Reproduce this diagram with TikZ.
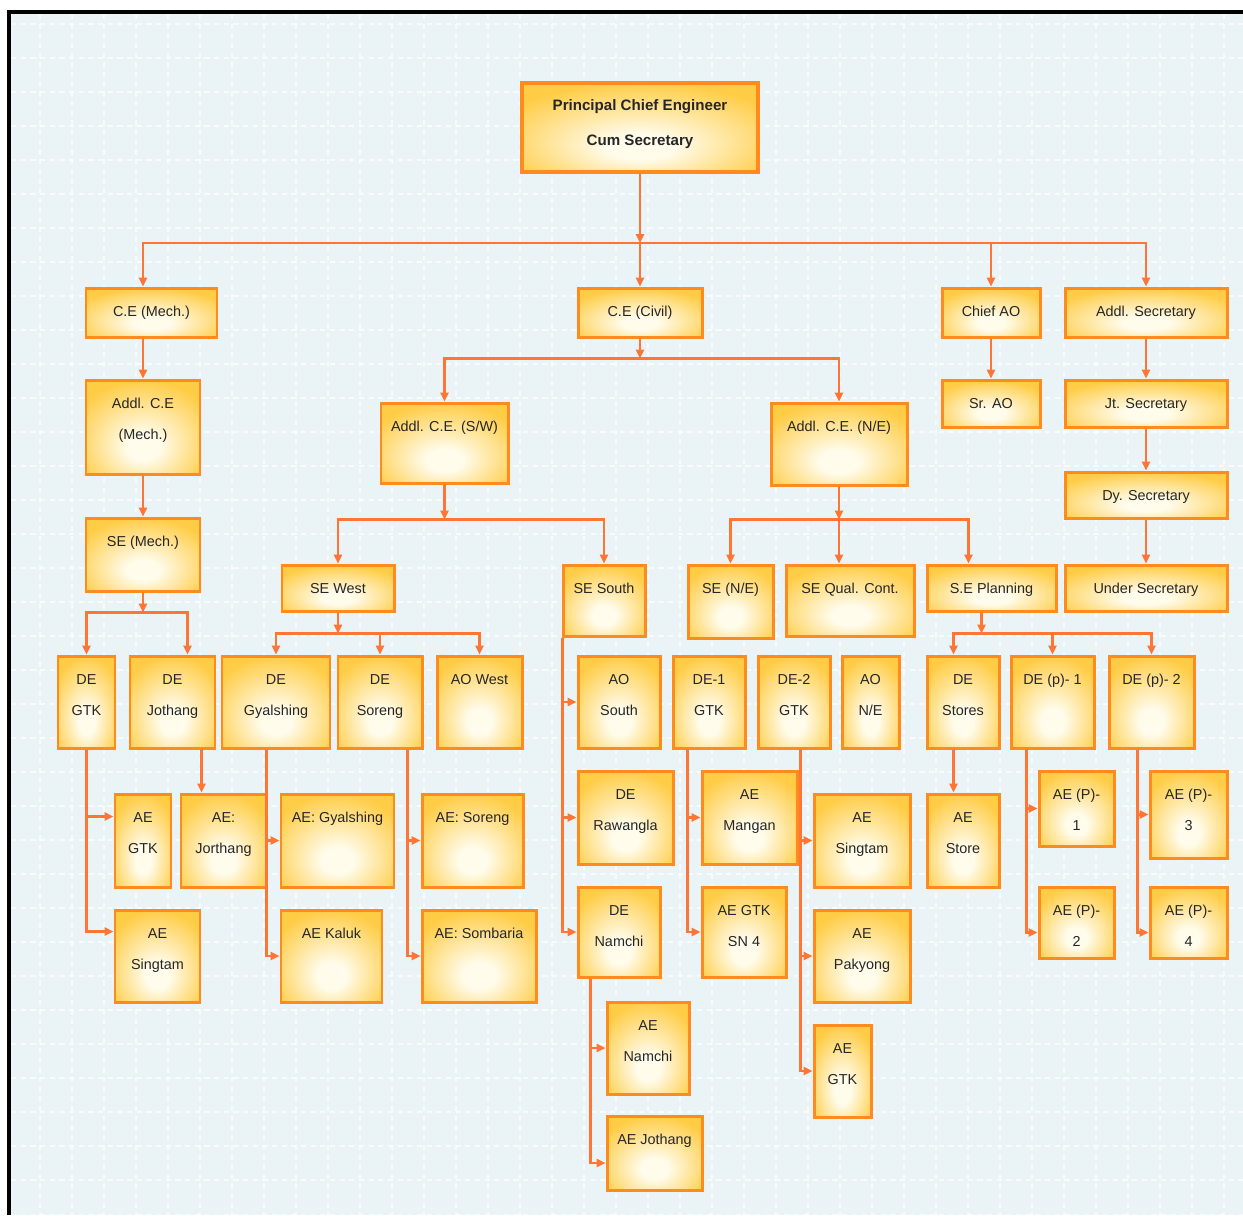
\documentclass[tikz,border=0pt]{standalone}
\usepackage{fontspec}
\setmainfont{Liberation Sans}
\usetikzlibrary{arrows.meta,fit,positioning,calc}
\definecolor{bgblue}{HTML}{EAF4F7}
\definecolor{boxedge}{HTML}{FF8A1E}
\definecolor{boxgold}{HTML}{FFCC45}
\definecolor{boxlight}{HTML}{FFFCEC}
\definecolor{linkor}{HTML}{FF7536}
\pgfdeclareradialshading{boxglow}{\pgfpoint{0bp}{-12bp}}{color(0bp)=(boxlight); color(7bp)=(boxlight); color(32bp)=(boxgold); color(70bp)=(boxgold)}
% one box of the chart: name, corners, text
\newcommand{\orgbox}[6]{%
  \node[obox, fit={(#2,#3) (#4,#5)}] (#1) {};
  \node[otext, below=11pt of #1.north] (#1-t) {#6};
}
\begin{document}
\begin{tikzpicture}[x=0.02cm, y=-0.02cm,
    obox/.style={draw=boxedge, line width=1.7pt, shade, shading=boxglow, inner sep=0pt, rectangle},
    otext/.style={font=\fontsize{8.2}{17.6}\selectfont, text=black!85, align=center, inner sep=0pt},
    link/.style={draw=linkor, line width=1.3pt},
    conn/.style={link, -{Triangle[length=5pt,width=4.5pt]}},
    gridln/.style={draw=white, line width=0.6pt, dash pattern=on 3pt off 2.5pt, opacity=0.7}]
    \useasboundingbox (0,0) rectangle (1243,1215);
    \fill[white] (0,0) rectangle (1243,1215);
    \fill[bgblue] (9,12) rectangle (1243,1215);
    \foreach \gx in {40,72,...,1243} \draw[gridln] (\gx,14) -- (\gx,1215);
    \foreach \gy in {24,58,...,1215} \draw[gridln] (11,\gy) -- (1243,\gy);
    \draw[black, line width=2pt] (9,1215) -- (9,12) -- (1243,12);

    % head
    \node[obox, line width=2.3pt, fit={(522,83) (758,172)}] (pce) {};
    \node[otext, font=\fontsize{8.6}{19.9}\selectfont\bfseries, below=10.5pt of pce.north] (pce-t) {Principal Chief Engineer\\Cum Secretary};

    % first level
    \orgbox{cemech}{86}{288}{217}{337}{C.E (Mech.)}
    \orgbox{cecivil}{578}{288}{702}{337}{C.E (Civil)}
    \orgbox{chiefao}{942}{288}{1040}{337}{Chief AO}
    \orgbox{adsec}{1065}{288}{1227}{337}{Addl. Secretary}

    \orgbox{adcemech}{86}{380}{200}{474}{Addl. C.E\\(Mech.)}
    \orgbox{srao}{942}{380}{1040}{427}{Sr. AO}
    \orgbox{jtsec}{1065}{380}{1227}{427}{Jt. Secretary}
    \orgbox{adsw}{381}{403}{508}{483}{Addl. C.E. (S/W)}
    \orgbox{adne}{771}{403}{907}{485}{Addl. C.E. (N/E)}
    \orgbox{dysec}{1065}{472}{1227}{518}{Dy. Secretary}

    % superintending engineers
    \orgbox{semech}{86}{518}{200}{591}{SE (Mech.)}
    \orgbox{sewest}{282}{565}{394}{611}{SE West}
    \orgbox{sesouth}{563}{565}{645}{636}{SE South}
    \orgbox{sene}{688}{565}{773}{638}{SE (N/E)}
    \orgbox{sequal}{786}{565}{914}{636}{SE Qual. Cont.}
    \orgbox{seplan}{927}{565}{1056}{611}{S.E Planning}
    \orgbox{undsec}{1065}{565}{1227}{611}{Under Secretary}

    % divisions
    \orgbox{degtk}{58}{656}{115}{748}{DE\\GTK}
    \orgbox{dejot}{130}{656}{215}{748}{DE\\Jothang}
    \orgbox{degyal}{222}{656}{330}{748}{DE\\Gyalshing}
    \orgbox{desor}{338}{656}{422}{748}{DE\\Soreng}
    \orgbox{aowest}{437}{656}{522}{748}{AO West}
    \orgbox{aosouth}{578}{656}{660}{748}{AO\\South}
    \orgbox{deonegtk}{673}{656}{745}{748}{DE-1\\GTK}
    \orgbox{detwogtk}{758}{656}{830}{748}{DE-2\\GTK}
    \orgbox{aone}{842}{656}{899}{748}{AO\\N/E}
    \orgbox{destore}{927}{656}{999}{748}{DE\\Stores}
    \orgbox{depone}{1011}{656}{1094}{748}{DE (p)- 1}
    \orgbox{deptwo}{1109}{656}{1194}{748}{DE (p)- 2}

    % sub divisions
    \orgbox{aegtk}{115}{794}{171}{887}{AE\\GTK}
    \orgbox{aejor}{181}{794}{266}{887}{AE:\\Jorthang}
    \orgbox{aegyal}{281}{794}{394}{887}{AE: Gyalshing}
    \orgbox{aesor}{422}{794}{523}{887}{AE: Soreng}
    \orgbox{derawa}{578}{771}{673}{864}{DE\\Rawangla}
    \orgbox{aemang}{702}{771}{797}{864}{AE\\Mangan}
    \orgbox{aesingb}{814}{794}{910}{887}{AE\\Singtam}
    \orgbox{aestore}{927}{794}{999}{887}{AE\\Store}
    \orgbox{aepone}{1039}{771}{1114}{846}{AE (P)-\\1}
    \orgbox{aepthree}{1150}{771}{1227}{858}{AE (P)-\\3}

    \orgbox{aesinga}{115}{910}{200}{1002}{AE\\Singtam}
    \orgbox{aekaluk}{281}{910}{382}{1002}{AE Kaluk}
    \orgbox{aesomb}{422}{910}{536}{1002}{AE: Sombaria}
    \orgbox{denam}{578}{887}{660}{977}{DE\\Namchi}
    \orgbox{aesnfour}{702}{887}{786}{977}{AE GTK\\SN 4}
    \orgbox{aepak}{814}{910}{910}{1002}{AE\\Pakyong}
    \orgbox{aeptwo}{1039}{887}{1114}{958}{AE (P)-\\2}
    \orgbox{aepfour}{1150}{887}{1227}{958}{AE (P)-\\4}

    \orgbox{aenam}{607}{1002}{689}{1094}{AE\\Namchi}
    \orgbox{aegtkb}{814}{1025}{871}{1117}{AE\\GTK}
    \orgbox{aejoth}{607}{1116}{702}{1190}{AE Jothang}

    % top bus
    \coordinate (bzero) at ($(pce.south)+(0,69)$);
    \draw[conn] (pce.south) -- (bzero);
    \draw[conn] (bzero) -| (adcemech.north |- cemech.north);
    \draw[conn] (bzero) -- (cecivil.north);
    \draw[conn] (bzero) -| (chiefao.north);
    \draw[conn] (bzero) -| (adsec.north);

    % mech side
    \draw[conn] (adcemech.north |- cemech.south) -- (adcemech.north);
    \draw[conn] (semech.north |- adcemech.south) -- (semech.north);
    \coordinate (bmech) at ($(semech.south)+(0,20)$);
    \draw[conn] (semech.south) -- (bmech);
    \draw[conn] (bmech) -| (degtk.north);
    \draw[conn] (bmech) -| ($(dejot.north east)+(-29,0)$);
    \coordinate (pgtk) at ($(aegtk.north west)+(0,24)$);
    \coordinate (psing) at ($(aesinga.north west)+(0,23)$);
    \draw[conn] (degtk.south) |- (psing);
    \draw[conn] (degtk.south |- pgtk) -- (pgtk);
    \coordinate (tjot) at ($(dejot.south east)+(-15,0)$);
    \draw[conn] (tjot) -- (tjot |- aejor.north);

    % civil side
    \coordinate (bcivil) at ($(cecivil.south)+(0,20)$);
    \draw[conn] (cecivil.south) -- (bcivil);
    \draw[conn] (bcivil) -| (adsw.north);
    \draw[conn] (bcivil) -| (adne.north);

    \coordinate (bsw) at ($(adsw.south)+(0,35)$);
    \draw[conn] (adsw.south) -- (bsw);
    \draw[conn] (bsw) -| (sewest.north);
    \draw[conn] (bsw) -| (sesouth.north);

    \coordinate (bwest) at ($(sewest.south)+(0,21)$);
    \draw[conn] (sewest.south) -- (bwest);
    \draw[conn] (bwest) -| (degyal.north);
    \draw[conn] (bwest) -| (desor.north);
    \draw[conn] (bwest) -| (aowest.north);

    \coordinate (tgyal) at ($(degyal.south west)+(46,0)$);
    \draw[conn] (tgyal) |- (aekaluk.west);
    \draw[conn] (tgyal |- aegyal.west) -- (aegyal.west);
    \coordinate (tsor) at ($(desor.south west)+(71,0)$);
    \draw[conn] (tsor) |- (aesomb.west);
    \draw[conn] (tsor |- aesor.west) -- (aesor.west);

    \coordinate (tsouth) at ($(sesouth.south west)+(1,0)$);
    \draw[conn] (tsouth) |- (denam.west);
    \draw[conn] (tsouth |- aosouth.west) -- (aosouth.west);
    \draw[conn] (tsouth |- derawa.west) -- (derawa.west);
    \coordinate (tnam) at ($(denam.south west)+(14,0)$);
    \draw[conn] (tnam) |- ($(aejoth.west)+(0,10)$);
    \draw[conn] (tnam |- aenam.west) -- (aenam.west);

    \coordinate (bne) at ($(adne.south)+(0,33)$);
    \draw[conn] (adne.south) -- (bne);
    \draw[conn] (bne) -| (sene.north);
    \draw[conn] (bne) -- (bne |- sequal.north);
    \draw[conn] (bne) -| ($(seplan.north west)+(43,0)$);

    \coordinate (tone) at ($(deonegtk.south west)+(16,0)$);
    \draw[conn] (tone) |- (aesnfour.west);
    \draw[conn] (tone |- aemang.west) -- (aemang.west);
    \coordinate (ttwo) at ($(detwogtk.south west)+(44,0)$);
    \draw[conn] (ttwo) |- (aegtkb.west);
    \draw[conn] (ttwo |- aesingb.west) -- (aesingb.west);
    \draw[conn] (ttwo |- aepak.west) -- (aepak.west);

    \coordinate (bplan) at ($(seplan.south west)+(56,21)$);
    \draw[conn] (bplan |- seplan.south) -- (bplan);
    \draw[conn] (bplan) -| ($(destore.north west)+(28,0)$);
    \draw[conn] (bplan) -| (depone.north);
    \draw[conn] (bplan) -| (deptwo.north);
    \draw[conn] ($(destore.south west)+(28,0)$) -- ($(aestore.north west)+(28,0)$);

    \coordinate (tpone) at ($(depone.south west)+(17,0)$);
    \draw[conn] (tpone) |- ($(aeptwo.west)+(0,10)$);
    \draw[conn] (tpone |- aepone.west) -- (aepone.west);
    \coordinate (tptwo) at ($(deptwo.south west)+(30,0)$);
    \draw[conn] (tptwo) |- ($(aepfour.west)+(0,10)$);
    \draw[conn] (tptwo |- aepthree.west) -- (aepthree.west);

    % admin side
    \draw[conn] (chiefao) -- (srao);
    \draw[conn] (adsec) -- (jtsec);
    \draw[conn] (jtsec) -- (dysec);
    \draw[conn] (dysec) -- (undsec);
\end{tikzpicture}
\end{document}
